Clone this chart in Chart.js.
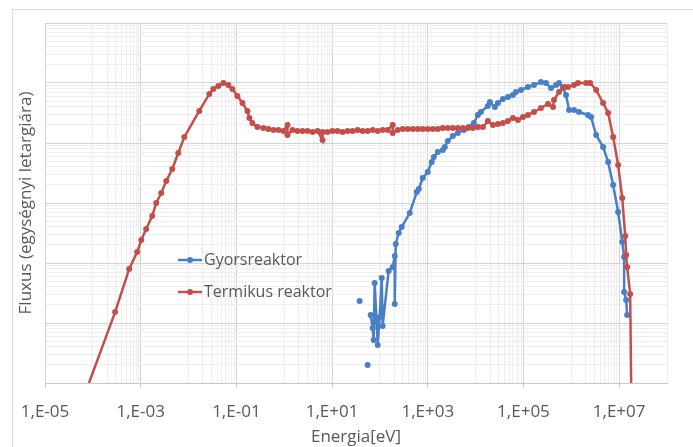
<!DOCTYPE html>
<html>
<head>
<meta charset="utf-8">
<title>Fluxus</title>
<script src="https://cdn.jsdelivr.net/npm/chart.js@4"></script>
<style>
  html, body { margin: 0; padding: 0; background: #fff; }
  #wrap { position: relative; width: 693px; height: 447px; }
  #frame { position: absolute; left: 12px; top: 9px; right: 0; bottom: 0;
           border-left: 1px solid #d9d9d9; border-top: 1px solid #d9d9d9; pointer-events: none; }
</style>
</head>
<body>
<div id="wrap">
  <canvas id="fluxChart" width="693" height="447"></canvas>
  <div id="frame"></div>
</div>
<script>
// Termikus reaktor (energia eV, fluxus)
const termEnergy = [8.3e-5, 2.92e-4, 5.74e-4, 8.45e-4, 1.03e-3, 1.30e-3, 1.74e-3, 2.11e-3, 2.69e-3, 3.42e-3,
  4.57e-3, 6.10e-3, 8.15e-3, 1.68e-2, 2.72e-2, 3.30e-2, 4.20e-2, 5.35e-2, 6.80e-2, 8.24e-2,
  0.105, 0.134, 0.170, 0.187, 0.216, 0.275, 0.367, 0.468, 0.596, 0.759,
  0.964, 1.17, 1.17, 1.49, 1.89, 2.41, 3.07, 3.91, 4.97, 6.32,
  6.32, 8.05, 10.2, 13.0, 16.6, 21.1, 26.9, 34.2, 43.5, 55.4,
  70.5, 89.7, 114, 145, 185, 185, 235, 299, 381, 485,
  618, 786, 1000, 1273, 1620, 2061, 2624, 3340, 4250, 5410,
  6886, 8750, 11150, 14190, 18060, 22980, 29250, 37240, 47400, 60300,
  76740, 97700, 1.24e5, 1.66e5, 2.32e5, 3.26e5, 4.15e5, 4.35e5, 5.53e5, 7.05e5,
  8.55e5, 1.14e6, 1.38e6, 2.04e6, 2.47e6, 3.30e6, 4.62e6, 5.89e6, 7.48e6, 9.53e6,
  1.16e7, 1.34e7, 1.40e7, 1.47e7, 1.70e7, 1.78e7];
const termFlux = [1, 15.2, 79.4, 152, 242, 369, 607, 1000, 1468, 2326,
  3687, 6813, 12589, 34150, 65600, 79430, 89125, 100000, 92600, 79430,
  60700, 46400, 34150, 26100, 21540, 18480, 17780, 17100, 16500, 16500,
  15850, 19950, 13600, 16500, 15850, 15850, 15850, 15300, 15850, 11200,
  15300, 15300, 15850, 15850, 15300, 15850, 15850, 16500, 15850, 15850,
  16500, 15850, 16500, 16500, 19950, 14700, 16500, 17100, 17100, 17100,
  17100, 17100, 17100, 17100, 17100, 17800, 17800, 17800, 17800, 17800,
  17800, 17800, 18500, 18500, 23300, 19950, 20700, 21500, 23300, 26100,
  24200, 27100, 29300, 32900, 38300, 44700, 39800, 52100, 70800, 85800,
  85800, 92700, 100000, 100000, 100000, 76400, 46400, 31600, 12600, 4300,
  1210, 282, 136, 85.8, 30.4, 1];

// Gyorsreaktor (null = szakadás a görbében)
const gyorsEnergy = [37.7, 37.7, 55.4, 55.4, 64.0, 70.5, 74.0, 77.6, 85.5, 89.7,
  98.8, 109, 114, 152, 185, 204, 204, 214, 247, 285,
  420, 589, 649, 786, 1000, 1213, 1337, 1620, 2061, 2270,
  2624, 3340, 4250, 5680, 7230, 9190, 11150, 12880, 18060, 19860,
  25290, 29250, 37240, 47400, 60300, 69660, 88720, 1.24e5, 1.66e5, 2.32e5,
  2.96e5, 3.77e5, 4.80e5, 5.53e5, 6.71e5, 7.76e5, 8.97e5, 1.14e6, 1.45e6, 2.24e6,
  2.59e6, 3.30e6, 4.62e6, 5.89e6, 7.48e6, 9.53e6, 1.16e7, 1.27e7, 1.27e7, 1.40e7,
  1.47e7];
const gyorsFlux = [23.3, null, 2.0, null, 13.6, 8.25, 5.2, 46.4, 10.4, 4.3,
  12.6, 56.2, 8.9, 73.6, 85.8, 131, 20.7, 207, 316, 398,
  681, 1525, 1710, 2610, 3290, 4820, 5840, 7080, 7640, 8580,
  10800, 13100, 14700, 16500, 18500, 21500, 29300, 32900, 41400, 48200,
  39800, 46400, 54100, 58400, 63100, 70800, 76400, 85800, 92700, 103900,
  100000, 82500, 92700, 100000, 82500, 63100, 35500, 35500, 32900, 29300,
  27100, 13600, 8580, 4820, 1995, 708, 224, 126, 32.9, 24.2,
  13.6];

const xMajorTicks = [1e-5, 1e-3, 1e-1, 1e1, 1e3, 1e5, 1e7];
const xTickLabels = ['1,E-05', '1,E-03', '1,E-01', '1,E+01', '1,E+03', '1,E+05', '1,E+07'];

const blue = '#4a7fc4';
const red = '#c0504d';
const textColor = '#595959';

// Rácsvonalak helyei (Excel: 100-as alapú fő, 10-es mellék beosztás)
const xGrid = [];
xMajorTicks.forEach(function (v) {
  xGrid.push({ value: v, major: true });
  for (let k = 1; k <= 9; k++) {
    if (v * 10 * k <= 1e8) xGrid.push({ value: v * 10 * k, major: false });
  }
});
const yGrid = [];
for (let n = 0; n < 6; n++) {
  yGrid.push({ value: Math.pow(10, n), major: true });
  for (let k = 2; k <= 9; k++) yGrid.push({ value: k * Math.pow(10, n), major: false });
}
yGrid.push({ value: 1e6, major: true });

function toPoints(xs, ys) {
  return xs.map(function (x, i) { return { x: x, y: ys[i] }; });
}

// Jelmagyarázat a rajzterületen belül
const innerLegend = {
  id: 'innerLegend',
  afterDraw(chart) {
    const ctx = chart.ctx;
    const items = [chart.data.datasets[1], chart.data.datasets[0]];
    ctx.save();
    ctx.font = '16px "Open Sans"';
    ctx.textBaseline = 'middle';
    items.forEach(function (ds, i) {
      const y = 260 + i * 32;
      ctx.strokeStyle = ds.borderColor;
      ctx.lineWidth = 2.5;
      ctx.beginPath();
      ctx.moveTo(178, y);
      ctx.lineTo(202, y);
      ctx.stroke();
      ctx.fillStyle = ds.borderColor;
      ctx.beginPath();
      ctx.arc(190, y, 3, 0, Math.PI * 2);
      ctx.fill();
      ctx.fillStyle = textColor;
      ctx.fillText(ds.label, 204, y);
    });
    ctx.restore();
  }
};

Chart.defaults.font.family = '"Open Sans", sans-serif';
Chart.defaults.color = textColor;

const ctx = document.getElementById('fluxChart').getContext('2d');
const chart = new Chart(ctx, {
  type: 'scatter',
  data: {
    datasets: [
      {
        label: 'Termikus reaktor',
        data: toPoints(termEnergy, termFlux),
        showLine: true,
        borderColor: red,
        backgroundColor: red,
        borderWidth: 2.5,
        pointRadius: function (c) { return c.raw && c.raw.y <= 1 ? 0 : 3; },
        pointBorderWidth: 0,
        order: 0
      },
      {
        label: 'Gyorsreaktor',
        data: toPoints(gyorsEnergy, gyorsFlux),
        showLine: true,
        spanGaps: false,
        borderColor: blue,
        backgroundColor: blue,
        borderWidth: 2.5,
        pointRadius: 3,
        pointBorderWidth: 0,
        order: 1
      }
    ]
  },
  options: {
    responsive: false,
    animation: false,
    layout: { padding: { left: 0, right: 26, top: 23, bottom: 0 } },
    plugins: {
      legend: { display: false },
      tooltip: { enabled: false }
    },
    scales: {
      x: {
        type: 'logarithmic',
        min: 1e-5,
        max: 1e8,
        afterBuildTicks: function (scale) {
          scale.ticks = xGrid.map(function (t) { return { value: t.value, major: t.major }; });
        },
        afterFit: function (scale) { scale.height = 64; },
        ticks: {
          autoSkip: false,
          maxRotation: 0,
          padding: 14,
          font: { size: 17 },
          color: textColor,
          callback: function (value) {
            const i = xMajorTicks.indexOf(value);
            return i >= 0 ? xTickLabels[i] : '';
          }
        },
        grid: {
          color: function (c) { return c.tick && c.tick.major ? '#d4d4d4' : '#eeeeee'; },
          tickColor: function (c) { return c.tick && c.tick.major ? '#c8c8c8' : 'rgba(0,0,0,0)'; },
          tickLength: 5
        },
        border: { color: '#c8c8c8' },
        title: {
          display: true,
          text: 'Energia[eV]',
          font: { size: 17 },
          color: textColor,
          padding: { top: 0, bottom: 0 }
        }
      },
      y: {
        type: 'logarithmic',
        min: 1,
        max: 1e6,
        afterBuildTicks: function (scale) {
          scale.ticks = yGrid.map(function (t) { return { value: t.value, major: t.major }; });
        },
        afterFit: function (scale) { scale.width = 45; },
        ticks: { display: false },
        grid: {
          color: function (c) { return c.tick && c.tick.major ? '#d4d4d4' : '#eeeeee'; },
          drawTicks: false
        },
        border: { color: '#d4d4d4' },
        title: {
          display: true,
          text: 'Fluxus (egységnyi letargiára)',
          font: { size: 17 },
          color: textColor,
          padding: { top: 16, bottom: 0 }
        }
      }
    }
  },
  plugins: [innerLegend]
});
</script>
</body>
</html>
